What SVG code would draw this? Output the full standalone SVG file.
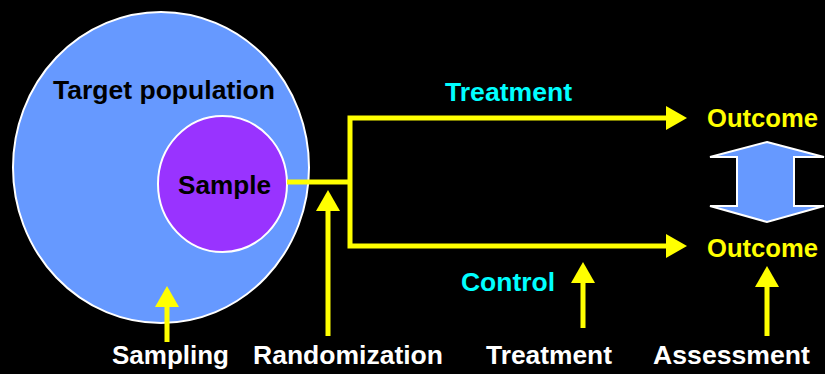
<svg xmlns="http://www.w3.org/2000/svg" width="825" height="374" viewBox="0 0 825 374">
<defs>
<style>
.t{font-family:"Liberation Sans",Arial,sans-serif;font-weight:bold;font-size:25px}
.blk{fill:#000}
.yel{fill:#ffff00}
.cy{fill:#00ffff}
.wh{fill:#ffffff}
.ln{stroke:#ffff00;stroke-width:5;fill:none}
.ah{fill:#ffff00}
</style>
</defs>
<rect width="825" height="374" fill="#000"/>
<g id="population">
<ellipse cx="161" cy="167.5" rx="148" ry="155.5" fill="#6699ff" stroke="#fff" stroke-width="2"/>
<text class="t blk" x="53" y="99" textLength="222" lengthAdjust="spacingAndGlyphs">Target population</text>
</g>
<g id="sample">
<ellipse cx="222.5" cy="184" rx="64.5" ry="68" fill="#9933ff" stroke="#fff" stroke-width="2"/>
<text class="t blk" x="178" y="194" textLength="93" lengthAdjust="spacingAndGlyphs">Sample</text>
</g>
<g id="outcome1"><text class="t yel" x="707" y="127" textLength="111" lengthAdjust="spacingAndGlyphs">Outcome</text></g>
<g id="outcome2"><text class="t yel" x="707" y="257" textLength="111" lengthAdjust="spacingAndGlyphs">Outcome</text></g>
<g id="compare">
<polygon points="767,142 824,157 794,157 794,206 824,206 767,222 710,206 737,206 737,157 710,157" fill="#6699ff" stroke="#fff" stroke-width="2" stroke-linejoin="miter"/>
</g>
<g id="labels">
<text class="t cy" x="445" y="101" textLength="127" lengthAdjust="spacingAndGlyphs">Treatment</text>
<text class="t cy" x="461" y="291" textLength="94" lengthAdjust="spacingAndGlyphs">Control</text>
<text class="t wh" x="112" y="364" textLength="117" lengthAdjust="spacingAndGlyphs">Sampling</text>
<text class="t wh" x="253" y="364" textLength="190" lengthAdjust="spacingAndGlyphs">Randomization</text>
<text class="t wh" x="486" y="364" textLength="126" lengthAdjust="spacingAndGlyphs">Treatment</text>
<text class="t wh" x="653" y="364" textLength="157" lengthAdjust="spacingAndGlyphs">Assessment</text>
</g>
<g id="connectors">
<polyline class="ln" points="287,182 350,182"/>
<polyline class="ln" points="667,118 350,118 350,246 667,246"/>
<polygon class="ah" points="666,106 687,118 666,130"/>
<polygon class="ah" points="666,234 687,246 666,258"/>
<line class="ln" x1="167" y1="342" x2="167" y2="305"/>
<polygon class="ah" points="167,286 179,307 155,307"/>
<line class="ln" x1="328" y1="336" x2="328" y2="209"/>
<polygon class="ah" points="328,190 340,211 316,211"/>
<line class="ln" x1="583" y1="328" x2="583" y2="281"/>
<polygon class="ah" points="583,262 595,283 571,283"/>
<line class="ln" x1="767" y1="336" x2="767" y2="285"/>
<polygon class="ah" points="767,266 779,287 755,287"/>
</g>
</svg>
